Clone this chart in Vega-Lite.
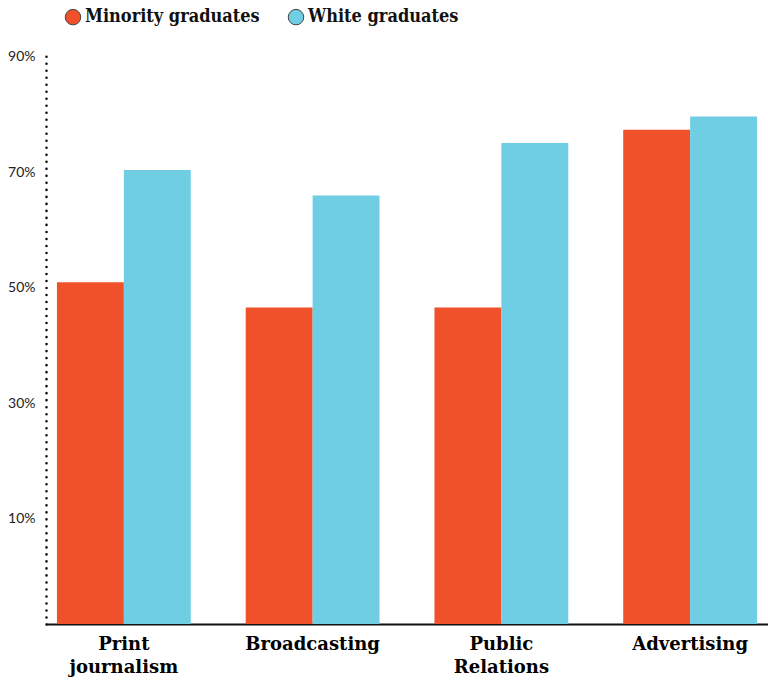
{
  "$schema": "https://vega.github.io/schema/vega-lite/v6.json",
  "width": 722,
  "height": 574,
  "autosize": {"type": "none"},
  "padding": {"left": 46, "top": 50, "right": 0, "bottom": 61},
  "background": "white",
  "data": {
    "values": [
      {"field": "Print journalism", "group": "Minority graduates", "pct": 51.0},
      {"field": "Print journalism", "group": "White graduates", "pct": 70.4},
      {"field": "Broadcasting", "group": "Minority graduates", "pct": 46.6},
      {"field": "Broadcasting", "group": "White graduates", "pct": 66.0},
      {"field": "Public Relations", "group": "Minority graduates", "pct": 46.6},
      {"field": "Public Relations", "group": "White graduates", "pct": 75.1},
      {"field": "Advertising", "group": "Minority graduates", "pct": 77.4},
      {"field": "Advertising", "group": "White graduates", "pct": 79.7}
    ]
  },
  "config": {
    "view": {"stroke": null},
    "axis": {"grid": false}
  },
  "mark": {"type": "bar"},
  "encoding": {
    "x": {
      "field": "field",
      "type": "nominal",
      "sort": ["Print journalism", "Broadcasting", "Public Relations", "Advertising"],
      "scale": {"paddingInner": 0.291, "paddingOuter": 0.058},
      "axis": {
        "title": null,
        "labelAngle": 0,
        "ticks": false,
        "domainColor": "#111111",
        "domainWidth": 2.2,
        "labelFont": "DejaVu Serif",
        "labelFontWeight": "bold",
        "labelFontSize": 18,
        "labelColor": "#000000",
        "labelPadding": 11,
        "labelLineHeight": 23,
        "labelExpr": "split(datum.label, ' ')"
      }
    },
    "xOffset": {
      "field": "group",
      "type": "nominal",
      "scale": {"paddingInner": 0, "paddingOuter": 0}
    },
    "y": {
      "field": "pct",
      "type": "quantitative",
      "scale": {"domain": [-8.2, 91.2], "nice": false, "zero": false},
      "axis": {
        "title": null,
        "values": [10, 30, 50, 70, 90],
        "ticks": false,
        "labelExpr": "datum.value + '%'",
        "labelFont": "Lato",
        "labelFontSize": 14,
        "labelColor": "#222222",
        "labelPadding": 11,
        "domainColor": "#111111",
        "domainWidth": 2.6,
        "domainCap": "round",
        "domainDash": [0.01, 7]
      }
    },
    "y2": {"datum": -8.2},
    "color": {
      "field": "group",
      "type": "nominal",
      "scale": {
        "domain": ["Minority graduates", "White graduates"],
        "range": ["#F1512A", "#6FCEE4"]
      },
      "legend": {
        "title": null,
        "orient": "none",
        "legendX": 18,
        "legendY": -42,
        "direction": "horizontal",
        "symbolType": "circle",
        "symbolSize": 240,
        "symbolStrokeColor": "#444444",
        "symbolStrokeWidth": 1,
        "labelFont": "DejaVu Serif Condensed, DejaVu Serif",
        "labelFontSize": 18,
        "labelFontWeight": 600,
        "labelColor": "#111111",
        "labelOffset": 3,
        "columnPadding": 26,
        "labelLimit": 300
      }
    }
  }
}
